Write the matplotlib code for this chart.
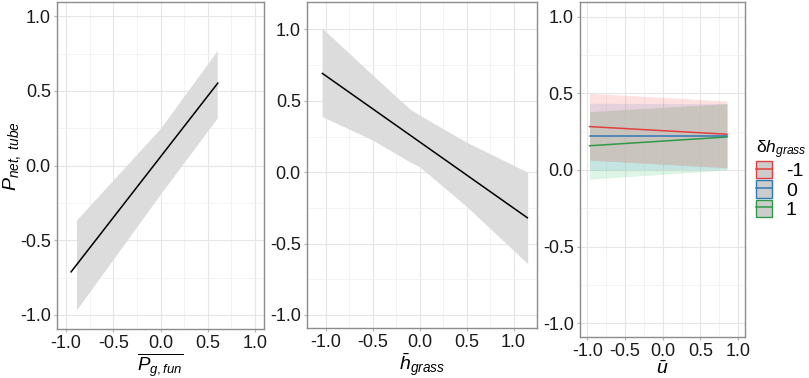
import numpy as np
import matplotlib
matplotlib.use("Agg")
import matplotlib.pyplot as plt
from matplotlib.patches import Patch
from matplotlib.lines import Line2D
from matplotlib.legend_handler import HandlerTuple
from matplotlib.ticker import MultipleLocator

plt.rcParams['font.family'] = ['Liberation Sans', 'DejaVu Sans']
plt.rcParams['mathtext.fontset'] = 'custom'
plt.rcParams['mathtext.it'] = 'Liberation Sans:italic'
plt.rcParams['mathtext.rm'] = 'Liberation Sans'
plt.rcParams['mathtext.bf'] = 'Liberation Sans:bold'

# panel 1: P_g,fun
p1_line_x = [-0.947, 0.606]
p1_line_y = [-0.712, 0.552]
p1_rib_x = [-0.89, 0.0, 0.6]
p1_rib_hi = [-0.365, 0.25, 0.77]
p1_rib_lo = [-0.967, -0.19, 0.318]

# panel 2: h_grass
p2_line_x = [-1.036, 1.147]
p2_line_y = [0.692, -0.319]
p2_rib_x = [-1.04, -0.5, -0.1, 0.0, 0.5, 1.15]
p2_rib_hi = [1.01, 0.68, 0.44, 0.40, 0.21, 0.0]
p2_rib_lo = [0.39, 0.225, 0.07, 0.038, -0.24, -0.64]

# panel 3: u, grouped by delta h_grass
p3_x = [-0.97, 0.85]
groups = ['-1', '0', '1']
p3_fit = {'-1': [0.283, 0.233], '0': [0.222, 0.222], '1': [0.158, 0.215]}
p3_hi = {'-1': [0.50, 0.45], '0': [0.435, 0.432], '1': [0.38, 0.432]}
p3_lo = {'-1': [0.065, 0.015], '0': [0.0, 0.006], '1': [-0.06, 0.0]}
line_cols = {'-1': '#e04040', '0': '#2f78b5', '1': '#2e9a48'}
fill_cols = {'-1': '#f56969', '0': '#6ea0e1', '1': '#50cd82'}

ticks = [-1.0, -0.5, 0.0, 0.5, 1.0]
tick_lbl = ['-1.0', '-0.5', '0.0', '0.5', '1.0']

fig = plt.figure(figsize=(8.09, 3.78), dpi=100)
ax1 = fig.add_axes([0.0705, 0.1296, 0.2559, 0.865])
ax2 = fig.add_axes([0.3795, 0.1323, 0.2843, 0.862])
ax3 = fig.add_axes([0.7169, 0.1085, 0.2040, 0.887])


def style(ax, xlim, ylim):
    ax.set_xlim(xlim)
    ax.set_ylim(ylim)
    ax.set_xticks(ticks)
    ax.set_xticklabels(tick_lbl)
    ax.set_yticks(ticks)
    ax.set_yticklabels(tick_lbl)
    ax.xaxis.set_minor_locator(MultipleLocator(0.25))
    ax.yaxis.set_minor_locator(MultipleLocator(0.25))
    ax.grid(which='major', color='#e6e6e6', lw=0.8)
    ax.grid(which='minor', color='#f1f1f1', lw=0.6)
    ax.set_axisbelow(True)
    for s in ax.spines.values():
        s.set_color('#8c8c8c')
        s.set_linewidth(1.0)
    ax.tick_params(which='major', length=2.5, color='#b3b3b3', labelsize=13,
                   labelcolor='#1a1a1a', pad=2)
    ax.tick_params(which='minor', length=0)


ax1.fill_between(p1_rib_x, p1_rib_lo, p1_rib_hi, color='#dcdcdc', lw=0)
ax1.plot(p1_line_x, p1_line_y, color='black', lw=1.1)
style(ax1, (-1.096, 1.096), (-1.095, 1.095))
ax1.set_xlabel(r'$\overline{P_{g,fun}}$', fontsize=13.5, labelpad=-1)
ax1.set_ylabel(r'$P_{net,\ tube}$', fontsize=14)
ax1.yaxis.set_label_coords(-0.165, 0.53)

ax2.fill_between(p2_rib_x, p2_rib_lo, p2_rib_hi, color='#dcdcdc', lw=0)
ax2.plot(p2_line_x, p2_line_y, color='black', lw=1.1)
style(ax2, (-1.2, 1.25), (-1.091, 1.191))
ax2.set_xlabel(r'$\bar{h}_{grass}$', fontsize=14, labelpad=0)

# ribbons: blue, green, red, then the shared part darkened to grey
for g in ['0', '1', '-1']:
    ax3.fill_between(p3_x, p3_lo[g], p3_hi[g], color=fill_cols[g], alpha=0.2, lw=0)
common_lo = np.max([p3_lo[g] for g in groups], axis=0)
common_hi = np.min([p3_hi[g] for g in groups], axis=0)
ax3.fill_between(p3_x, common_lo, common_hi, color='#c8c2ba', alpha=0.8, lw=0)
for g in groups:
    ax3.plot(p3_x, p3_fit[g], color=line_cols[g], lw=1.1)
style(ax3, (-1.097, 1.09), (-1.09, 1.098))
ax3.set_xlabel(r'$\bar{u}$', fontsize=14, labelpad=0)

handles = [(Patch(facecolor='#cccccc', edgecolor=line_cols[g], lw=1.0),
            Line2D([], [], color=line_cols[g], lw=1.1)) for g in groups]
leg = fig.legend(handles, groups, loc='upper left', bbox_to_anchor=(0.922, 0.66),
                 title=r'$\mathrm{\delta} h_{grass}$', frameon=False, fontsize=14,
                 title_fontsize=12.5, handler_map={tuple: HandlerTuple(ndivide=1)},
                 handlelength=0.85, handleheight=1.0, labelspacing=0.0,
                 handletextpad=0.7, borderpad=0, alignment='left')

fig.savefig('out.png', dpi=100)
